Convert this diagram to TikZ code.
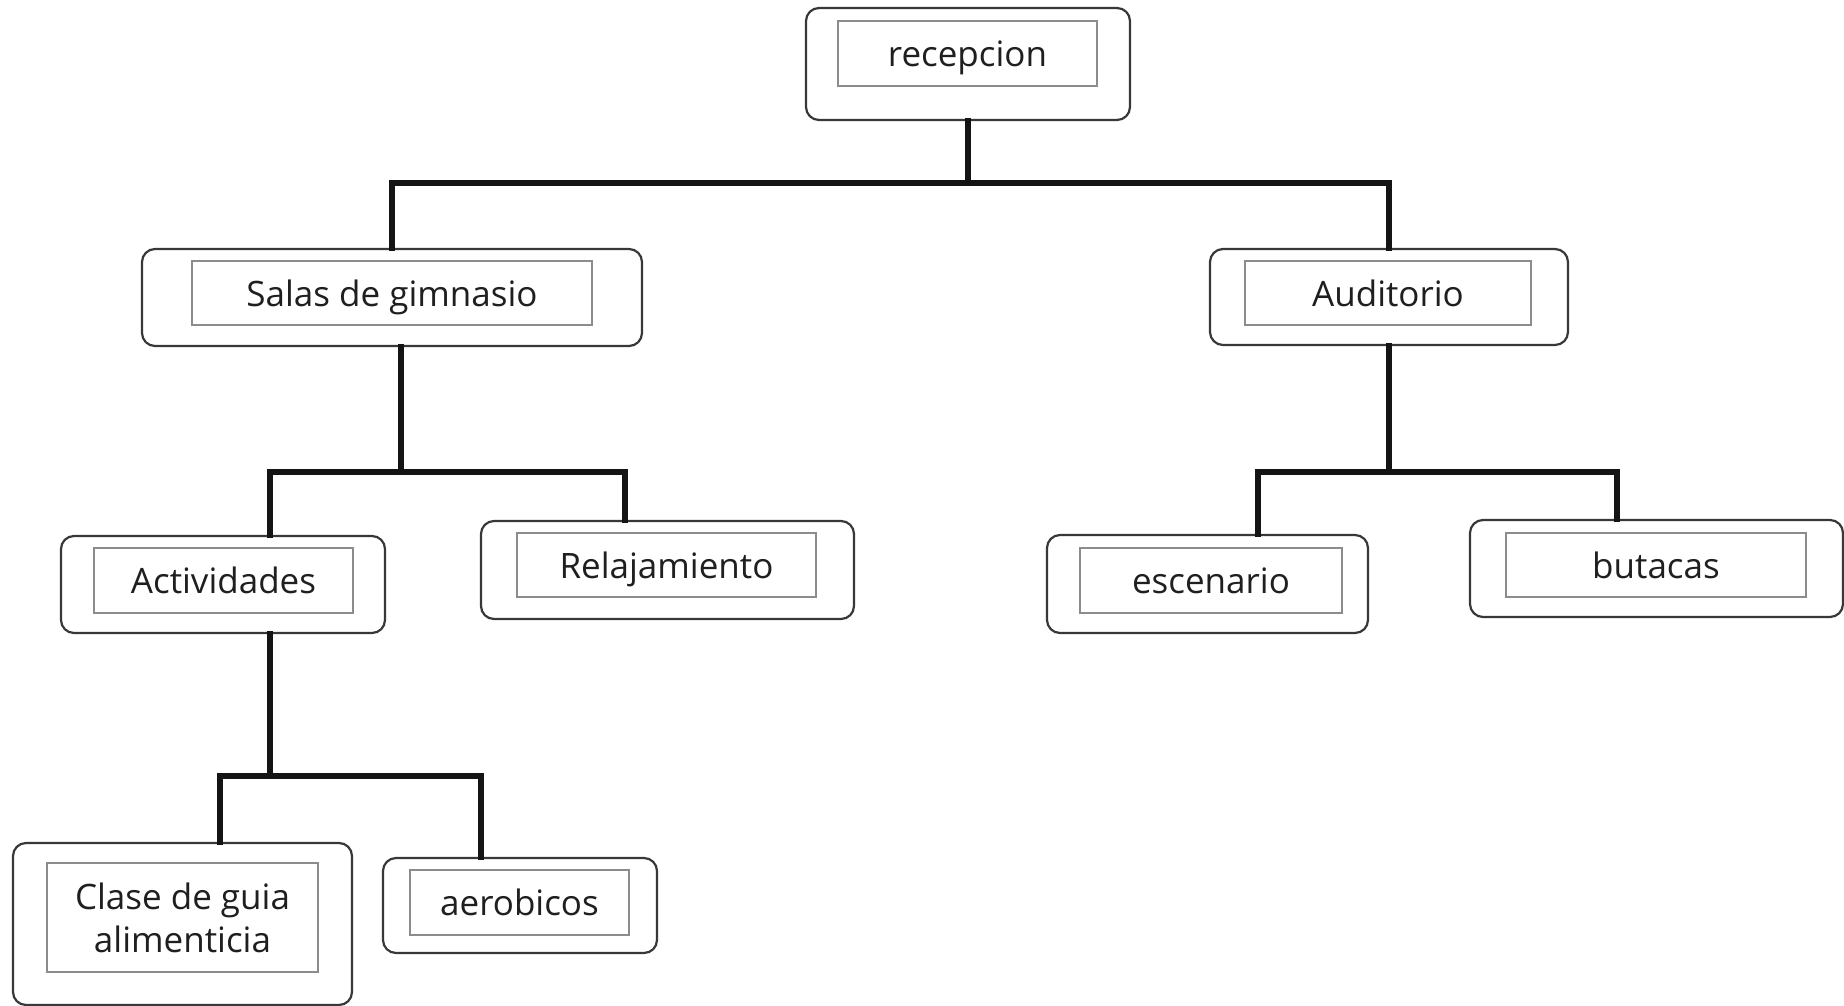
\documentclass[tikz,border=0pt]{standalone}
\usepackage{fontspec}
\setmainfont{Open Sans}
\begin{document}
\begin{tikzpicture}[x=1pt,y=-1pt,
  outerbox/.style={draw=black!78,line width=2.2pt,rounded corners=13pt,fill=white,inner sep=0pt},
  innerbox/.style={draw=black!45,line width=1.3pt,inner sep=0pt,align=center,text=black!88,font=\fontsize{35}{43}\selectfont},
  oneline/.style={innerbox,text height=30pt,text depth=4pt},
  conn/.style={draw=black!92,line width=6pt,line join=miter,line cap=rect}]
\useasboundingbox (0,0) rectangle (1844,1006);
% outer boxes
\node[outerbox,minimum width=324pt,minimum height=112pt] (rec) at (968,64) {};
\node[outerbox,minimum width=500pt,minimum height=97pt] (sal) at (392,297.5) {};
\node[outerbox,minimum width=358pt,minimum height=96pt] (aud) at (1389,297) {};
\node[outerbox,minimum width=324pt,minimum height=97pt] (act) at (223,584.5) {};
\node[outerbox,minimum width=373pt,minimum height=98pt] (rel) at (667.5,570) {};
\node[outerbox,minimum width=321pt,minimum height=98pt] (esc) at (1207.5,584) {};
\node[outerbox,minimum width=373pt,minimum height=97pt] (but) at (1656.5,568.5) {};
\node[outerbox,minimum width=339pt,minimum height=162pt] (cla) at (182.5,924) {};
\node[outerbox,minimum width=274pt,minimum height=95pt] (aer) at (520,905.5) {};
% inner boxes with text
\node[oneline,minimum width=259pt,minimum height=65pt] (reci) at (967.5,53.5) {recepcion};
\node[oneline,minimum width=400pt,minimum height=64pt] (sali) at (392,293) {Salas de gimnasio};
\node[oneline,minimum width=286pt,minimum height=64pt] (audi) at (1388,293) {Auditorio};
\node[oneline,minimum width=259pt,minimum height=65pt] (acti) at (223.5,580.5) {Actividades};
\node[oneline,minimum width=299pt,minimum height=64pt] (reli) at (666.5,565) {Relajamiento};
\node[oneline,minimum width=262pt,minimum height=65pt] (esci) at (1211,580.5) {escenario};
\node[oneline,minimum width=300pt,minimum height=64pt] (buti) at (1656,565) {butacas};
\node[innerbox,minimum width=271pt,minimum height=109pt] (clai) at (182.5,917.5) {Clase de guia\\alimenticia};
\node[oneline,minimum width=219pt,minimum height=65pt] (aeri) at (519.5,902.5) {aerobicos};
% junctions
\coordinate (j1) at (968,183);
\coordinate (j2) at (401,472);
\coordinate (j3) at (1389,472);
\coordinate (j4) at (270,776);
% connectors
\draw[conn] (rec.south) -- (j1);
\draw[conn] (sal.north) |- (j1) -| (aud.north);
\draw[conn] ([xshift=9pt]sal.south) -- (j2);
\draw[conn] ([xshift=47pt]act.north) |- (j2) -| ([xshift=-43pt]rel.north);
\draw[conn] (aud.south) -- (j3);
\draw[conn] ([xshift=50.5pt]esc.north) |- (j3) -| ([xshift=-39.5pt]but.north);
\draw[conn] ([xshift=47pt]act.south) -- (j4);
\draw[conn] ([xshift=37.5pt]cla.north) |- (j4) -| ([xshift=-39pt]aer.north);
\end{tikzpicture}
\end{document}
